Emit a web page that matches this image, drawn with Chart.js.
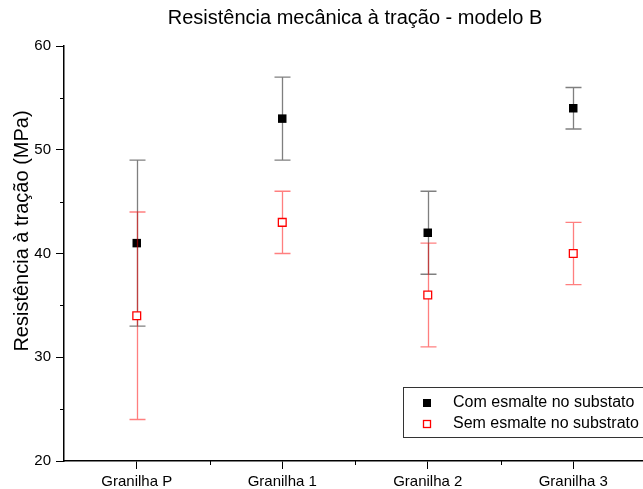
<!DOCTYPE html>
<html><head><meta charset="utf-8">
<script src="https://cdn.jsdelivr.net/npm/chart.js@4.4.1/dist/chart.umd.min.js"></script>
<style>html,body{margin:0;padding:0;overflow:hidden;background:#fff}#wrap{width:646px;height:489px;position:relative}</style>
</head><body><div id="wrap"><canvas id="c"></canvas></div>
<script>
const titleText = 'Resistência mecânica à tração - modelo B';
const yTitle = 'Resistência à tração (MPa)';
const categories = ['Granilha P', 'Granilha 1', 'Granilha 2', 'Granilha 3'];
const comLabel = 'Com esmalte no substato';
const semLabel = 'Sem esmalte no substrato';
const comMean = [41, 53, 42, 54];
const comErr = [8, 4, 4, 2];
const semMean = [34, 43, 36, 40];
const semErr = [10, 3, 5, 3];
const yMajor = [20, 30, 40, 50, 60];
const yMinor = [25, 35, 45, 55];
const xMinor = [0.5, 1.5, 2.5];

Chart.defaults.font.family = "'Liberation Sans', Arial, sans-serif";
Chart.defaults.color = '#000';

const toPts = arr => arr.map((v, i) => ({x: i, y: v}));

const errPlugin = {
  id: 'errbars',
  beforeDatasetDraw(chart, args) {
    const ds = chart.data.datasets[args.index];
    const xs = chart.scales.x, ys = chart.scales.y, ctx = chart.ctx;
    ctx.save();
    ctx.strokeStyle = ds.errColor;
    ctx.lineWidth = 1.3;
    ds.data.forEach((p, i) => {
      const e = ds.errors[i];
      const px = Math.round(xs.getPixelForValue(p.x)) + 0.5;
      const t = ys.getPixelForValue(p.y + e), b = ys.getPixelForValue(p.y - e);
      ctx.beginPath();
      ctx.moveTo(px, t); ctx.lineTo(px, b);
      ctx.moveTo(px - 8, t); ctx.lineTo(px + 8, t);
      ctx.moveTo(px - 8, b); ctx.lineTo(px + 8, b);
      ctx.stroke();
    });
    ctx.restore();
  }
};

const decoPlugin = {
  id: 'deco',
  afterDraw(chart) {
    const ctx = chart.ctx, xs = chart.scales.x, ys = chart.scales.y, ca = chart.chartArea;
    ctx.save();
    ctx.strokeStyle = '#000'; ctx.lineWidth = 1;
    yMinor.forEach(v => {
      const py = Math.round(ys.getPixelForValue(v)) + 0.5;
      ctx.beginPath(); ctx.moveTo(ca.left - 4, py); ctx.lineTo(ca.left, py); ctx.stroke();
    });
    xMinor.forEach(v => {
      const px = Math.round(xs.getPixelForValue(v)) + 0.5;
      ctx.beginPath(); ctx.moveTo(px, ca.bottom); ctx.lineTo(px, ca.bottom + 4); ctx.stroke();
    });
    // title
    ctx.fillStyle = '#000';
    ctx.font = "20px 'Liberation Sans', Arial, sans-serif";
    ctx.textAlign = 'center'; ctx.textBaseline = 'middle';
    ctx.fillText(titleText, (ca.left + ca.right) / 2, 18);
    // y axis title
    ctx.save();
    ctx.translate(28, 231);
    ctx.rotate(-Math.PI / 2);
    ctx.textAlign = 'center'; ctx.textBaseline = 'alphabetic';
    ctx.fillText(yTitle, 0, 0);
    ctx.restore();
    // legend
    const lx = 403, ly = 387, lw = 250, lh = 50;
    ctx.fillStyle = '#fff';
    ctx.fillRect(lx, ly, lw, lh);
    ctx.strokeStyle = '#333'; ctx.lineWidth = 1;
    ctx.strokeRect(lx + 0.5, ly + 0.5, lw, lh);
    const dss = chart.data.datasets;
    const rows = [ly + 16, ly + 37];
    dss.forEach((ds, i) => {
      const cy = rows[i];
      if (ds.pointBackgroundColor === '#000') {
        ctx.fillStyle = '#000'; ctx.fillRect(lx + 20, cy - 4, 8, 8);
      } else {
        ctx.strokeStyle = '#ff0000'; ctx.lineWidth = 1.3; ctx.strokeRect(lx + 20.5, cy - 3.5, 7, 7);
      }
      ctx.fillStyle = '#000';
      ctx.font = "16px 'Liberation Sans', Arial, sans-serif";
      ctx.textAlign = 'left'; ctx.textBaseline = 'middle';
      ctx.fillText(ds.label, lx + 50, cy);
    });
    ctx.restore();
  }
};

new Chart(document.getElementById('c'), {
  type: 'scatter',
  data: {
    datasets: [
      { label: comLabel, data: toPts(comMean), errors: comErr, errColor: 'rgba(0,0,0,0.5)',
        pointStyle: 'rect', pointRadius: 6, pointBackgroundColor: '#000', pointBorderColor: '#000', pointBorderWidth: 0, order: 2 },
      { label: semLabel, data: toPts(semMean), errors: semErr, errColor: 'rgba(255,0,0,0.5)',
        pointStyle: 'rect', pointRadius: 5.5, pointBackgroundColor: '#fff', pointBorderColor: '#ff0000', pointBorderWidth: 1.3, order: 1 }
    ]
  },
  options: {
    responsive: true, maintainAspectRatio: false, animation: false, events: [],
    layout: { autoPadding: false, padding: { top: 46, left: 0, right: 0, bottom: 0 } },
    plugins: { legend: { display: false }, tooltip: { enabled: false }, title: { display: false } },
    scales: {
      x: {
        type: 'linear', min: -0.5, max: 3.5,
        afterBuildTicks: s => { s.ticks = categories.map((c, i) => ({ value: i })); },
        afterFit: s => { s.height = 28; },
        ticks: { callback: v => categories[v], font: { size: 15 }, padding: 4, autoSkip: false, maxRotation: 0 },
        grid: { drawOnChartArea: false, tickLength: 8, tickColor: '#000', tickWidth: 1 },
        border: { color: '#000', width: 1.5 }
      },
      y: {
        min: 20, max: 60,
        afterBuildTicks: s => { s.ticks = yMajor.map(v => ({ value: v })); },
        afterFit: s => { s.width = 64; },
        ticks: { font: { size: 15 }, padding: 5 },
        grid: { drawOnChartArea: false, tickLength: 8, tickColor: '#000', tickWidth: 1 },
        border: { color: '#000', width: 1.5 },
        title: { display: false, text: yTitle }
      }
    }
  },
  plugins: [errPlugin, decoPlugin]
});
</script></body></html>
